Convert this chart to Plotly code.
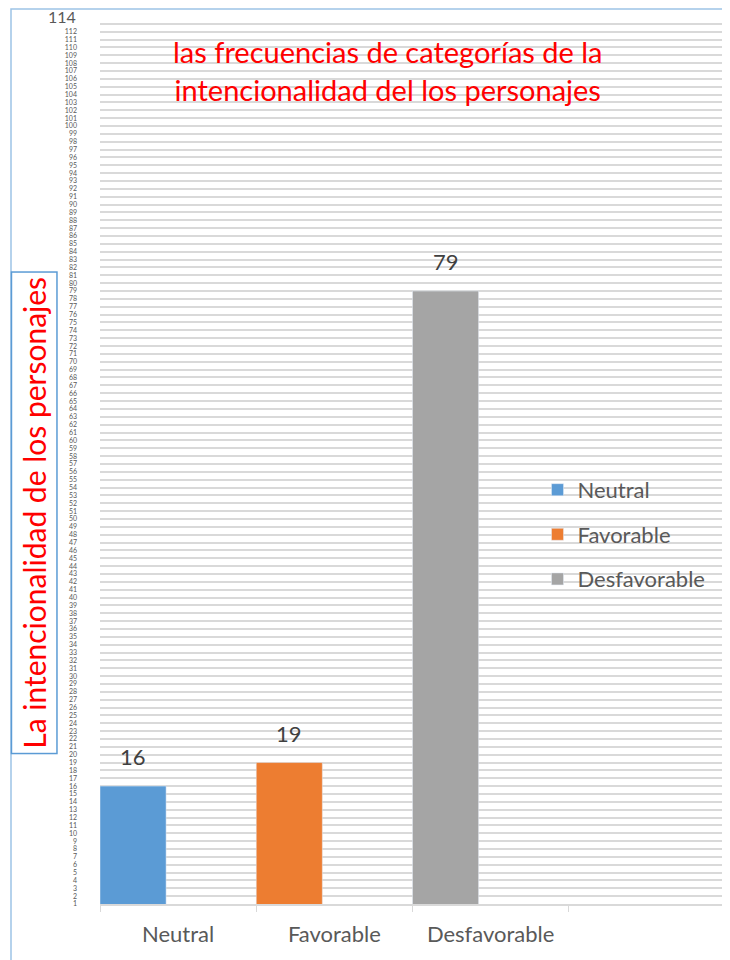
import plotly.graph_objects as go

categories = ["Neutral", "Favorable", "Desfavorable"]
values = [16, 19, 79]
colors = ["#5b9bd5", "#ed7d31", "#a5a5a5"]
slots = ["Neutral", "Favorable", "Desfavorable", " "]
y_ticks = list(range(1, 115))
y_top_label = 114

BAR_W = 0.423

fig = go.Figure()
annotations = []
for i, (c, v, col) in enumerate(zip(categories, values, colors)):
    fig.add_trace(go.Bar(
        x=[c], y=[v], name=c, marker_color=col,
        offset=-0.5, width=BAR_W, legendgroup=c,
    ))
    annotations.append(dict(
        x=i - 0.5 + BAR_W / 2, y=v, xref="x", yref="y", text=str(v),
        showarrow=False, yanchor="bottom", yshift=14,
        font=dict(size=22, color="#404040", family="Lato"),
    ))

def tick_label(t):
    if t >= 113:
        return ""
    return str(t)

ticktext = [tick_label(t) for t in y_ticks]

annotations += [
    dict(text=str(y_top_label), xref="paper", yref="y", x=-0.035, y=y_top_label,
         xanchor="right", yanchor="middle", showarrow=False,
         font=dict(size=16, color="#595959", family="Lato")),
    dict(text="las frecuencias de categorías de la<br>intencionalidad del los personajes",
         xref="paper", yref="paper", x=0.46, y=0.982, xanchor="center", yanchor="top",
         showarrow=False, font=dict(size=29, color="#ff0000", family="Lato")),
    dict(text="La intencionalidad de los personajes", textangle=-90,
         xref="paper", yref="paper", x=-0.1056, y=0.44, xanchor="center", yanchor="middle",
         showarrow=False, font=dict(size=30, color="#ff0000", family="Lato"),
         bordercolor="#5b9bd5", borderwidth=1.5, borderpad=4, bgcolor="white"),
]

fig.update_layout(
    width=722, height=952,
    margin=dict(l=92, r=5, t=8, b=56),
    paper_bgcolor="white", plot_bgcolor="white",
    barmode="overlay",
    font=dict(family="Lato", color="#595959"),
    showlegend=True,
    legend=dict(x=0.7, y=0.49, xanchor="left", yanchor="top",
                font=dict(size=22, color="#595959"),
                bgcolor="rgba(0,0,0,0)", tracegroupgap=13),
    xaxis=dict(type="category", categoryorder="array", categoryarray=slots,
               range=[-0.5, 3.5], tickson="boundaries", ticks="outside",
               ticklen=6, tickcolor="#d9d9d9", showline=True, linecolor="#d9d9d9",
               linewidth=1.5, showgrid=False, ticklabelstandoff=10,
               tickfont=dict(size=22, color="#595959")),
    yaxis=dict(range=[1, 114], tickvals=y_ticks, ticktext=ticktext,
               showgrid=True, gridcolor="#d9d9d9", gridwidth=1.6,
               zeroline=False, showline=False, ticks="",
               tickfont=dict(size=7, color="#595959"), ticklabelstandoff=22),
    annotations=annotations,
    shapes=[
        dict(type="rect", xref="paper", yref="paper",
             x0=-0.1424, x1=1.0016, y0=-0.1, y1=1.008,
             line=dict(color="#9dc3e6", width=1.5), fillcolor="rgba(0,0,0,0)", layer="below"),
    ],
)

fig.write_html("out.html")
